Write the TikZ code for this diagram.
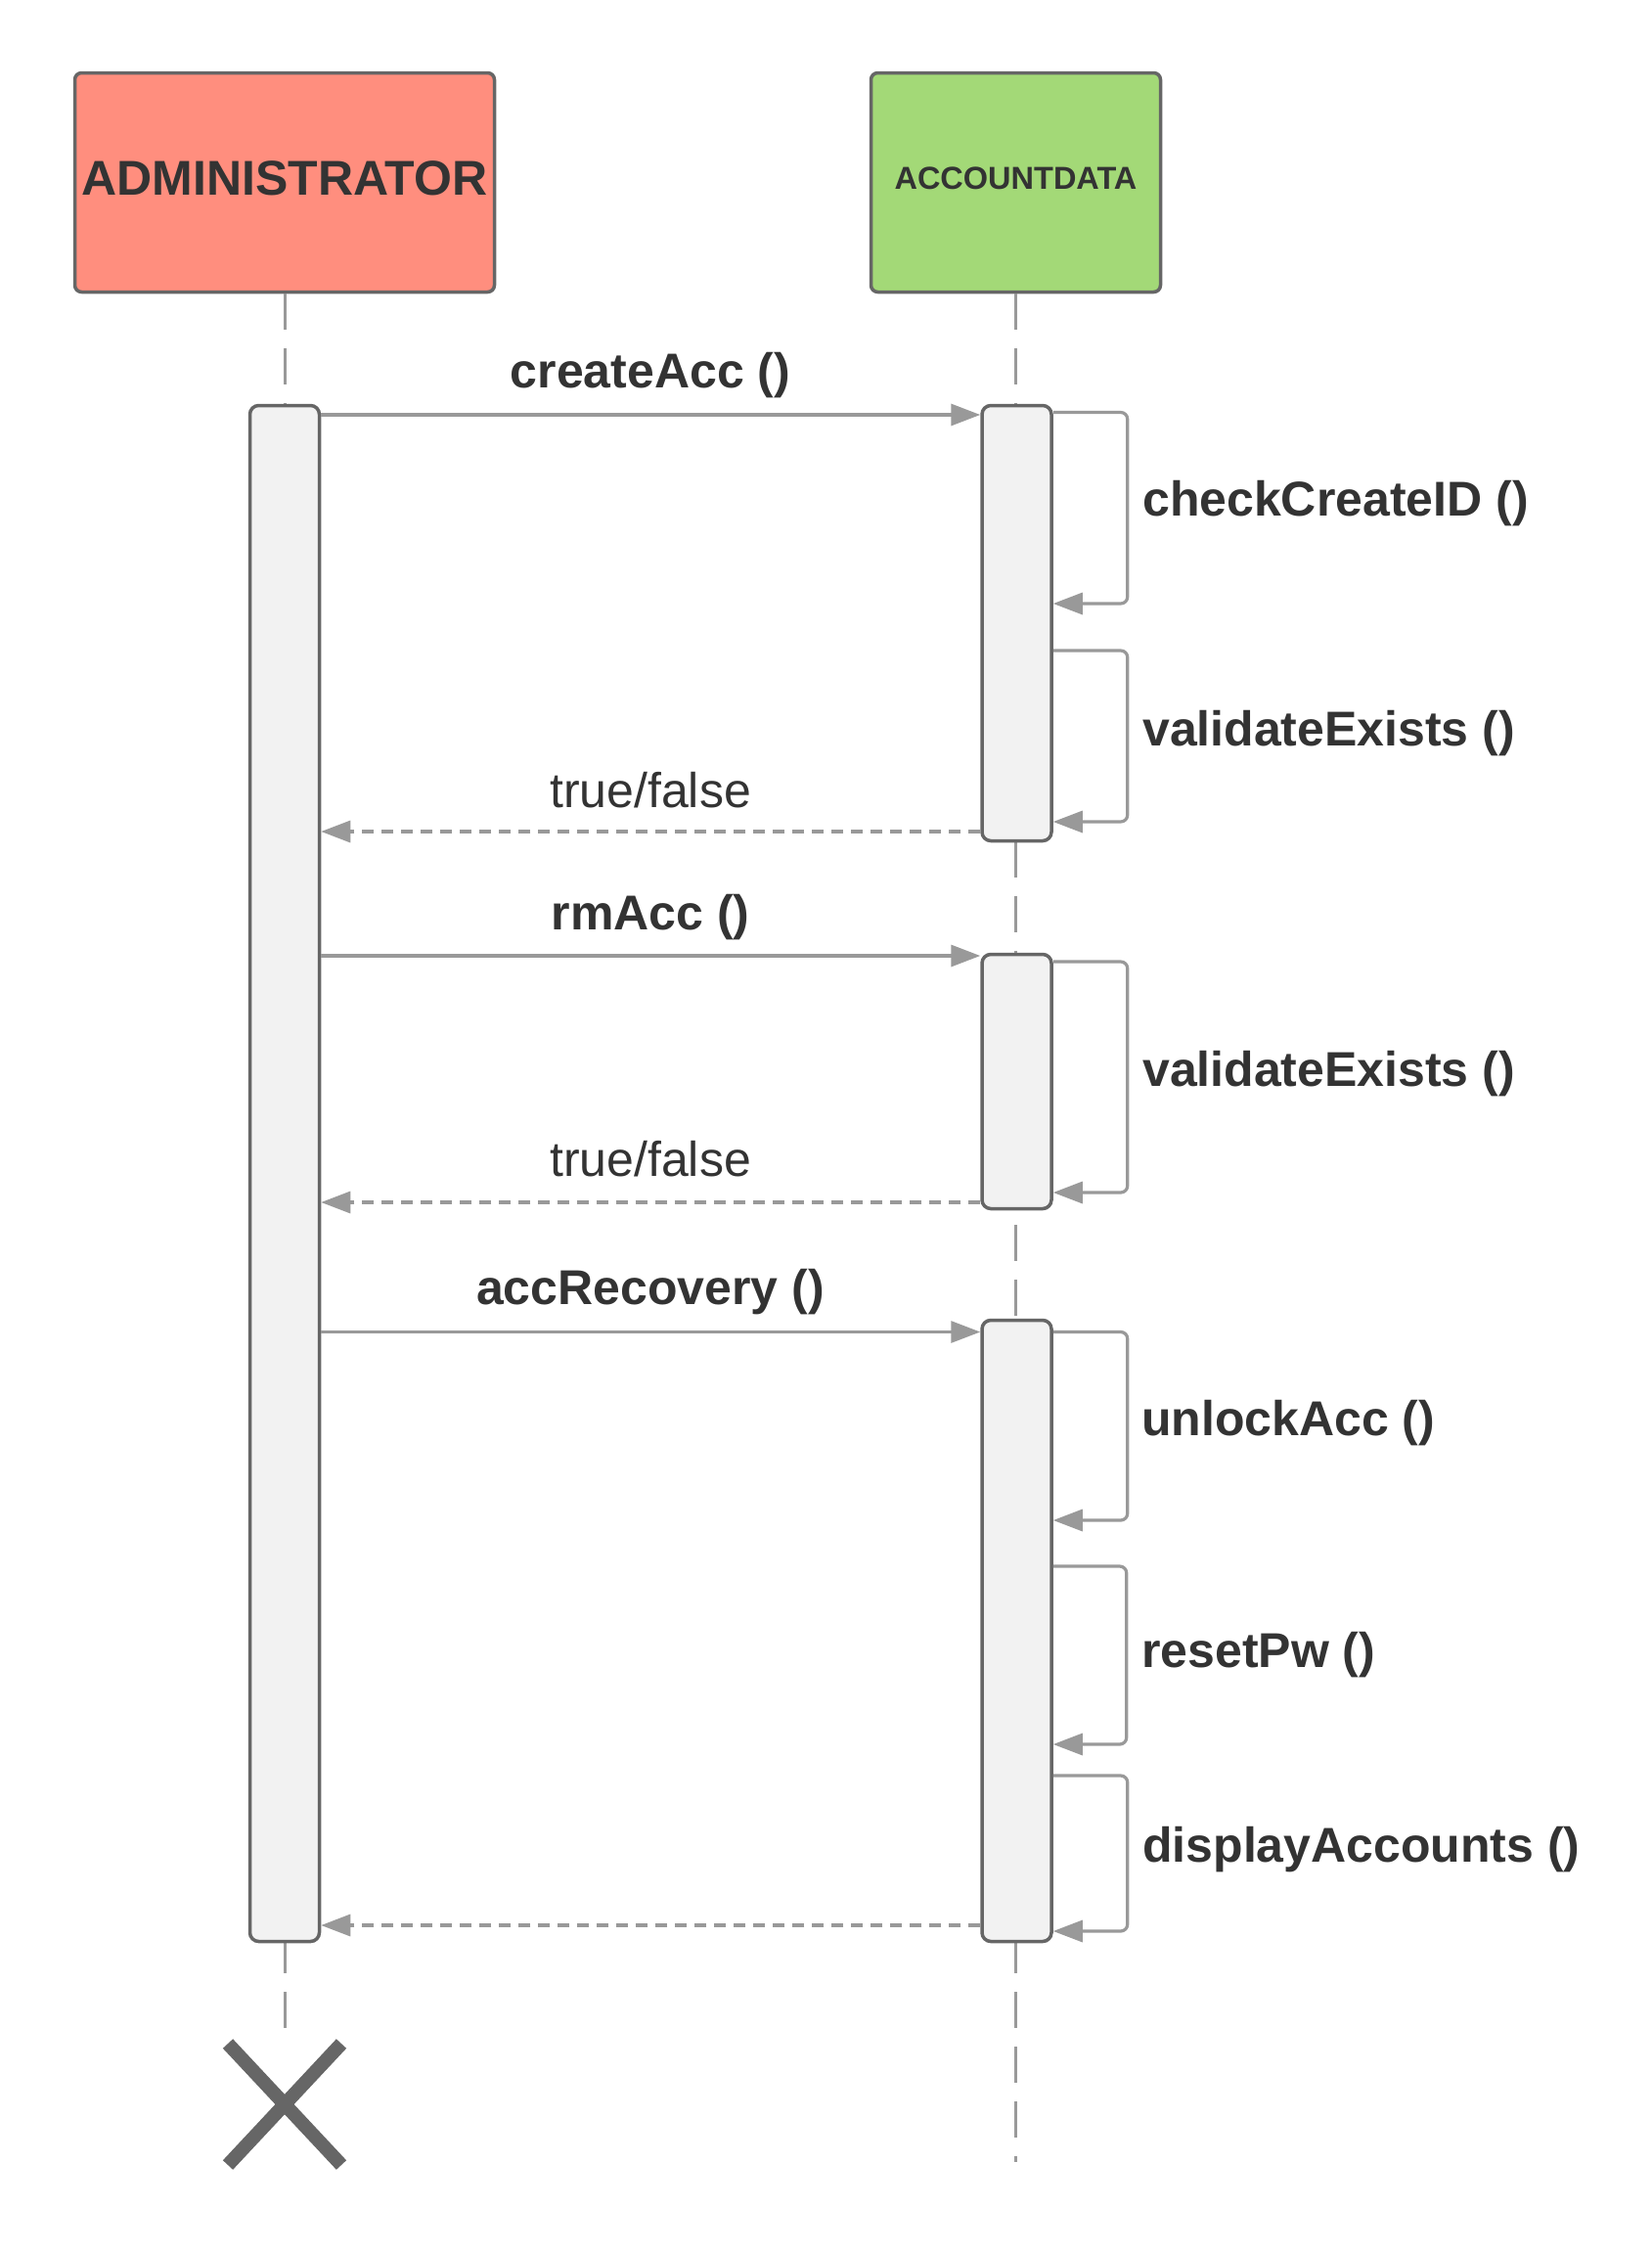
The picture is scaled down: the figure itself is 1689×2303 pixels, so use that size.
\documentclass[tikz,border=0pt]{standalone}
\usepackage{fontspec}
\setmainfont{Liberation Sans}
\usetikzlibrary{arrows.meta}
\definecolor{ink}{HTML}{333333}
\definecolor{edge}{HTML}{666666}
\definecolor{wire}{HTML}{999999}
\definecolor{actfill}{HTML}{F2F2F2}
\definecolor{adminfill}{HTML}{FF8E7E}
\definecolor{datafill}{HTML}{A3D977}
\tikzset{
  header/.style={draw=edge, line width=3.5pt, rounded corners=7pt, inner sep=0pt, text=ink},
  actbox/.style={draw=edge, fill=actfill, line width=3.5pt, rounded corners=9pt,
                 minimum width=71pt, inner sep=0pt},
  lifeline/.style={draw=wire, line width=3pt, dash pattern=on 37pt off 19pt},
  call/.style={draw=wire, line width=3.2pt, -{Triangle[length=30pt,width=22pt]}},
  reply/.style={draw=wire, line width=3.2pt, dash pattern=on 12pt off 8pt,
                -{Triangle[length=30pt,width=22pt]}},
  selfcall/.style={draw=wire, line width=3.2pt, rounded corners=7pt,
                   -{Triangle[length=30pt,width=22pt]}},
  msg/.style={text=ink, inner sep=0pt, font=\fontsize{50}{58}\selectfont\bfseries},
  retmsg/.style={text=ink, inner sep=0pt, font=\fontsize{50}{58}\selectfont},
  sidemsg/.style={msg, anchor=west},
}
\begin{document}
\begin{tikzpicture}[x=1pt, y=-1pt]
  \useasboundingbox (0,0) rectangle (1689,2303);

  % participants
  \node[header, fill=adminfill, minimum width=429pt, minimum height=224pt] (admin) at (291,186.5) {};
  \node[text=ink, inner sep=0pt, font=\fontsize{50}{58}\selectfont\bfseries] (adminName) at (291,182) {ADMINISTRATOR};
  \node[header, fill=datafill, minimum width=296pt, minimum height=224pt] (data) at (1038.5,186.5) {};
  \node[text=ink, inner sep=0pt, font=\fontsize{32.5}{38}\selectfont\bfseries] (dataName) at (1038.5,182) {ACCOUNTDATA};

  % lifelines
  \coordinate (adminEnd) at (291,2078);
  \coordinate (dataEnd) at (1038.5,2210);
  \draw[lifeline] (admin.south) -- (adminEnd);
  \draw[lifeline] (data.south) -- (dataEnd);

  % activation bars
  \node[actbox, minimum height=1570pt] (adminAct) at (291,1199.5) {};
  \node[actbox, minimum height=445pt] (act1) at (1039.5,637) {};
  \node[actbox, minimum height=260pt] (act2) at (1039.5,1105.5) {};
  \node[actbox, minimum height=635pt] (act3) at (1039.5,1667) {};

  % createAcc block
  \draw[call] (adminAct.east |- 0,424) -- (act1.west |- 0,424);
  \node[msg] (lblCreate) at (665,384) {createAcc ()};
  \draw[selfcall] (act1.east |- 0,421.5) -- ++(76,0) |- (act1.east |- 0,617);
  \node[sidemsg] (lblCheck) at (1168,515) {checkCreateID ()};
  \draw[selfcall] (act1.east |- 0,665) -- ++(76,0) |- (act1.east |- 0,840);
  \node[sidemsg] (lblValid1) at (1168,750) {validateExists ()};
  \draw[reply] (act1.west |- 0,850) -- (adminAct.east |- 0,850);
  \node[retmsg] (lblRet1) at (665,808) {true/false};

  % rmAcc block
  \draw[call] (adminAct.east |- 0,977) -- (act2.west |- 0,977);
  \node[msg] (lblRm) at (665,938) {rmAcc ()};
  \draw[selfcall] (act2.east |- 0,983) -- ++(76,0) |- (act2.east |- 0,1219);
  \node[sidemsg] (lblValid2) at (1168,1098) {validateExists ()};
  \draw[reply] (act2.west |- 0,1229) -- (adminAct.east |- 0,1229);
  \node[retmsg] (lblRet2) at (665,1185) {true/false};

  % accRecovery block
  \draw[call] (adminAct.east |- 0,1361.5) -- (act3.west |- 0,1361.5);
  \node[msg] (lblRecov) at (665,1321) {accRecovery ()};
  \draw[selfcall] (act3.east |- 0,1361.5) -- ++(76,0) |- (act3.east |- 0,1554);
  \node[sidemsg] (lblUnlock) at (1167,1455) {unlockAcc ()};
  \draw[selfcall] (act3.east |- 0,1601) -- ++(75,0) |- (act3.east |- 0,1783);
  \node[sidemsg] (lblReset) at (1167,1692) {resetPw ()};
  \draw[selfcall] (act3.east |- 0,1815) -- ++(76,0) |- (act3.east |- 0,1974);
  \node[sidemsg] (lblDisplay) at (1168,1891) {displayAccounts ()};
  \draw[reply] (act3.west |- 0,1968) -- (adminAct.east |- 0,1968);

  % destruction mark
  \coordinate (xmark) at (291,2151);
  \draw[edge, line width=14pt] ([shift={(-58,-62)}]xmark) -- ([shift={(58,62)}]xmark);
  \draw[edge, line width=14pt] ([shift={(58,-62)}]xmark) -- ([shift={(-58,62)}]xmark);
\end{tikzpicture}
\end{document}
